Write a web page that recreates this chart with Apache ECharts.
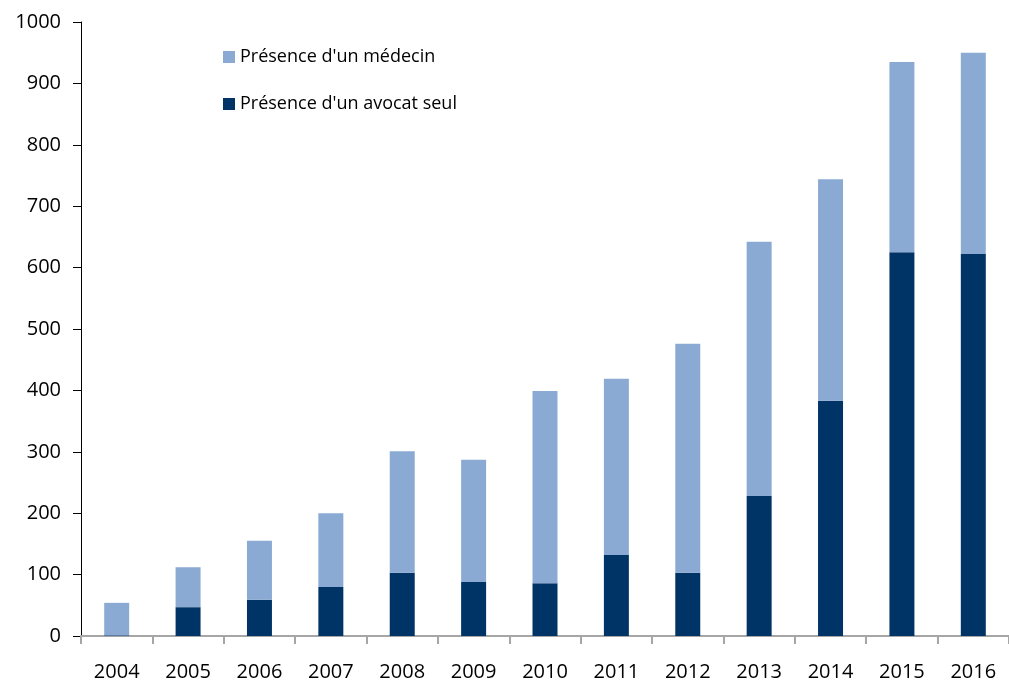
<!DOCTYPE html>
<html>
<head>
<meta charset="utf-8">
<script src="https://cdn.jsdelivr.net/npm/echarts@6/dist/echarts.min.js"></script>
<style>
  html, body { margin: 0; padding: 0; background: #fff; }
  #chart { width: 1009px; height: 684px; }
</style>
</head>
<body>
<div id="chart"></div>
<script>
// Years on the horizontal axis
const years = ['2004', '2005', '2006', '2007', '2008', '2009', '2010', '2011', '2012', '2013', '2014', '2015', '2016'];
// Lower segment: lawyer only
const avocatSeul = [1, 47, 59, 80, 103, 88, 86, 132, 103, 228, 383, 625, 622];
// Upper segment: doctor present (stacked on top)
const medecin = [53, 65, 96, 120, 198, 199, 313, 287, 373, 414, 361, 310, 328];

const FONT = '"Open Sans", "Liberation Sans", sans-serif';
const LIGHT = '#8AAAD4';
const DARK = '#003366';

const chart = echarts.init(document.getElementById('chart'));
chart.setOption({
  animation: false,
  backgroundColor: '#ffffff',
  textStyle: { fontFamily: FONT },
  grid: { left: 81, right: 0, top: 22, bottom: 48, containLabel: false },
  legend: {
    orient: 'vertical',
    left: 218,
    top: 43,
    itemWidth: 12,
    itemHeight: 12,
    itemGap: 29,
    icon: 'rect',
    data: ['Présence d\'un médecin', 'Présence d\'un avocat seul'],
    textStyle: { fontFamily: FONT, fontSize: 18, color: '#000' }
  },
  xAxis: {
    type: 'category',
    data: years,
    boundaryGap: true,
    axisLine: { show: true, lineStyle: { color: '#a6a6a6', width: 2 } },
    axisTick: { show: true, alignWithLabel: false, length: 8, lineStyle: { color: '#a6a6a6', width: 2 } },
    axisLabel: { color: '#000', fontFamily: FONT, fontSize: 20, margin: 26 }
  },
  yAxis: {
    type: 'value',
    min: 0,
    max: 1000,
    interval: 100,
    axisLine: { show: true, lineStyle: { color: '#000', width: 1 } },
    axisTick: { show: true, length: 8, lineStyle: { color: '#000' } },
    axisLabel: {
      color: '#000', fontFamily: FONT, fontSize: 20, margin: 20,
      formatter: (v) => String(v)
    },
    splitLine: { show: false }
  },
  series: [
    {
      name: 'Présence d\'un avocat seul',
      type: 'bar',
      stack: 'total',
      barWidth: '35%',
      itemStyle: { color: DARK },
      data: avocatSeul
    },
    {
      name: 'Présence d\'un médecin',
      type: 'bar',
      stack: 'total',
      barWidth: '35%',
      itemStyle: { color: LIGHT },
      data: medecin
    }
  ]
});
</script>
</body>
</html>
